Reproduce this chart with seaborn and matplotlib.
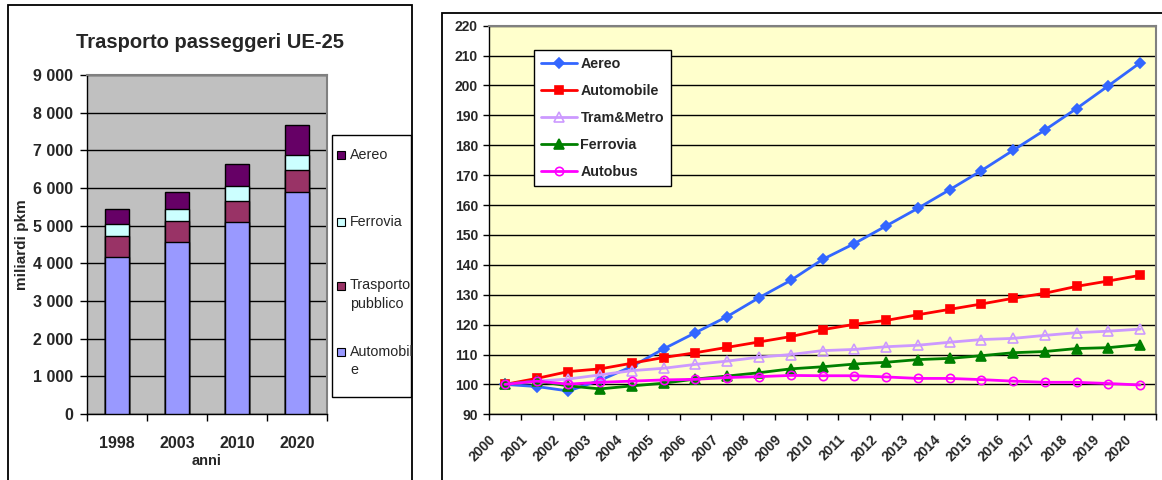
import matplotlib
matplotlib.use("Agg")
import matplotlib.pyplot as plt
import matplotlib.transforms as mtransforms
from matplotlib.patches import Rectangle
from matplotlib.ticker import FuncFormatter, MultipleLocator, FixedLocator
import pandas as pd
import seaborn as sns

# --- Trasporto passeggeri UE-25 (miliardi pkm) ---
anni_ue = ["1998", "2003", "2010", "2020"]
automobile_pkm = [4160, 4560, 5090, 5900]
trasporto_pubblico_pkm = [560, 575, 570, 565]
ferrovia_pkm = [320, 320, 405, 405]
aereo_pkm = [390, 450, 570, 815]

# --- Indici di crescita (2000 = 100) ---
anni_indice = list(range(2000, 2021))
aereo_idx = [100, 99.3, 97.8, 101.4, 106.0, 111.9, 117.3, 122.7, 129.0, 134.8, 141.8,
             147.1, 153.0, 158.9, 165.1, 171.5, 178.3, 185.1, 192.3, 199.9, 207.6]
automobile_idx = [100, 102.0, 104.3, 105.2, 107.1, 109.0, 110.6, 112.4, 114.2, 116.0, 118.3,
                  120.1, 121.4, 123.3, 125.1, 126.9, 128.8, 130.5, 132.8, 134.6, 136.5]
tram_metro_idx = [100, 101.1, 101.8, 103.2, 104.6, 105.4, 106.7, 107.8, 109.1, 110.0, 111.3,
                  111.7, 112.6, 113.1, 114.1, 115.0, 115.4, 116.4, 117.3, 117.8, 118.5]
ferrovia_idx = [100, 101.1, 99.5, 98.5, 99.5, 100.4, 101.8, 102.8, 103.9, 105.2, 105.9,
                106.8, 107.4, 108.3, 108.7, 109.6, 110.6, 111.0, 112.0, 112.3, 113.3]
autobus_idx = [100, 101.1, 100.1, 100.7, 101.1, 101.5, 101.7, 102.3, 102.6, 103.0, 102.9,
               102.9, 102.5, 102.0, 102.0, 101.6, 101.1, 100.7, 100.7, 100.3, 99.8]

sns.set_style("ticks")
plt.rcParams["font.family"] = ["Liberation Sans", "DejaVu Sans"]
plt.rcParams["axes.linewidth"] = 1.0

W, H = 1162, 480
fig = plt.figure(figsize=(W / 100, H / 100), dpi=100)
fig.patch.set_facecolor("white")


def px_box(x0, y0, x1, y1):
    """Figure-fraction rectangle from pixel corners (top-left origin)."""
    return [x0 / W, 1 - y1 / H, (x1 - x0) / W, (y1 - y0) / H]


# outer frames of the two charts
fig.add_artist(Rectangle((8 / W, -0.05), (412 - 8) / W, 1.05 - 5 / H,
                         transform=fig.transFigure, fill=False, ec="black", lw=1.3))
fig.add_artist(Rectangle((442 / W, -0.05), 1.1, 1.05 - 12.7 / H,
                         transform=fig.transFigure, fill=False, ec="black", lw=1.3))

# ================= left: stacked bars =================
ax1 = fig.add_axes(px_box(87, 75, 327, 414))
ax1.set_facecolor("#C0C0C0")

strati = [
    ("Automobil\ne", automobile_pkm, "#9999FF"),
    ("Trasporto\npubblico", trasporto_pubblico_pkm, "#993366"),
    ("Ferrovia", ferrovia_pkm, "#CCFFFF"),
    ("Aereo", aereo_pkm, "#660066"),
]
cumulati = []
somma = [0] * len(anni_ue)
for nome, valori, colore in strati:
    somma = [s + v for s, v in zip(somma, valori)]
    cumulati.append((nome, list(somma), colore))

# draw tallest cumulative first so each layer shows as a segment
for nome, tot, colore in reversed(cumulati):
    df = pd.DataFrame({"anno": anni_ue, "pkm": tot})
    sns.barplot(data=df, x="anno", y="pkm", color=colore, saturation=1, width=0.4,
                edgecolor="black", linewidth=1, errorbar=None, ax=ax1, zorder=3)

ax1.set_ylim(0, 9000)
ax1.set_xlim(-0.5, len(anni_ue) - 0.5)
ax1.yaxis.set_major_locator(MultipleLocator(1000))
ax1.yaxis.set_major_formatter(FuncFormatter(lambda v, p: f"{int(v):,}".replace(",", " ")))
ax1.grid(axis="y", color="black", lw=1, zorder=0)
ax1.set_axisbelow(True)
ax1.xaxis.set_minor_locator(FixedLocator([i - 0.5 for i in range(len(anni_ue) + 1)]))
ax1.tick_params(axis="x", which="major", length=0, pad=16, labelsize=11.5)
ax1.tick_params(axis="x", which="minor", length=5, width=1, color="black", direction="out")
ax1.tick_params(axis="y", length=5, width=1, color="black", direction="out", pad=5, labelsize=11.5)
for lab in ax1.get_xticklabels() + ax1.get_yticklabels():
    lab.set_fontweight("bold")
for s in ("left", "bottom"):
    ax1.spines[s].set_color("black")
for s in ("top", "right"):
    ax1.spines[s].set_color("#808080")
    ax1.spines[s].set_linewidth(1.5)
ax1.set_xlabel("anni", fontsize=10.5, fontweight="bold", labelpad=2)
ax1.set_ylabel("miliardi pkm", fontsize=11, fontweight="bold", labelpad=3)
fig.text(209.7 / W, 1 - 42 / H, "Trasporto passeggeri UE-25", ha="center", va="center",
         fontsize=14.5, fontweight="bold")

# legend box for the bars
fig.add_artist(Rectangle((332 / W, 1 - 397 / H), (411 - 332) / W, (397 - 135) / H,
                         transform=fig.transFigure, fc="white", ec="black", lw=1))
voci = [("Aereo", "#660066", 155), ("Ferrovia", "#CCFFFF", 222),
        ("Trasporto\npubblico", "#993366", 286), ("Automobil\ne", "#9999FF", 352)]
for nome, colore, yy in voci:
    fig.add_artist(Rectangle((337 / W, 1 - (yy + 4) / H), 8 / W, 8 / H,
                             transform=fig.transFigure, fc=colore, ec="black", lw=0.8))
    fig.text(350 / W, 1 - (yy - 7.5) / H, nome, ha="left", va="top", fontsize=10.3,
             linespacing=1.45)

# ================= right: growth indices =================
ax2 = fig.add_axes(px_box(489, 25.7, 1156, 414.3))
ax2.set_facecolor("#FFFFCC")

serie = [
    ("Aereo", aereo_idx, "#3366FF", "D", True, 5.5),
    ("Automobile", automobile_idx, "#FF0000", "s", True, 6),
    ("Tram&Metro", tram_metro_idx, "#CC99FF", "^", False, 7),
    ("Ferrovia", ferrovia_idx, "#008000", "^", True, 7),
    ("Autobus", autobus_idx, "#FF00FF", "o", False, 6),
]
for i, (nome, valori, colore, mk, pieno, ms) in enumerate(serie):
    sns.lineplot(x=anni_indice, y=valori, color=colore, marker=mk, markersize=ms,
                 markerfacecolor=colore if pieno else "none", markeredgecolor=colore,
                 markeredgewidth=1.2, linewidth=2.0, label=nome, ax=ax2, zorder=3 + i)

ax2.set_ylim(90, 220)
ax2.set_xlim(anni_indice[0] - 0.5, anni_indice[-1] + 0.5)
ax2.yaxis.set_major_locator(MultipleLocator(10))
ax2.grid(axis="y", color="black", lw=1, zorder=0)
ax2.set_axisbelow(True)
ax2.set_xticks(anni_indice)
ax2.set_xticklabels([str(a) for a in anni_indice])
ax2.xaxis.set_minor_locator(FixedLocator([a - 0.5 for a in anni_indice] + [anni_indice[-1] + 0.5]))
ax2.tick_params(axis="x", which="major", length=0, pad=13, labelsize=10)
ax2.tick_params(axis="x", which="minor", length=4, width=1, color="black", direction="out")
ax2.tick_params(axis="y", length=4, width=1, color="black", direction="out", pad=4, labelsize=10)
shift = mtransforms.ScaledTranslation(-0.16, 0, fig.dpi_scale_trans)
for lab in ax2.get_xticklabels():
    lab.set_rotation(45)
    lab.set_ha("right")
    lab.set_rotation_mode("anchor")
    lab.set_fontweight("bold")
    lab.set_transform(lab.get_transform() + shift)
for lab in ax2.get_yticklabels():
    lab.set_fontweight("bold")
for s in ("left", "bottom"):
    ax2.spines[s].set_color("black")
for s in ("top", "right"):
    ax2.spines[s].set_color("#808080")
    ax2.spines[s].set_linewidth(1.5)
ax2.set_xlabel("")
ax2.set_ylabel("")

leg = ax2.legend(loc="upper left", bbox_to_anchor=((534 - 489) / 667, (414.3 - 50) / 388.6),
                 frameon=True, fancybox=False, framealpha=1, edgecolor="black",
                 prop={"weight": "bold", "size": 10.3}, handlelength=2.5,
                 handletextpad=0.25, labelspacing=0.9, borderpad=0.5, borderaxespad=0)
leg.get_frame().set_linewidth(1)

fig.savefig("out.png", dpi=100)
